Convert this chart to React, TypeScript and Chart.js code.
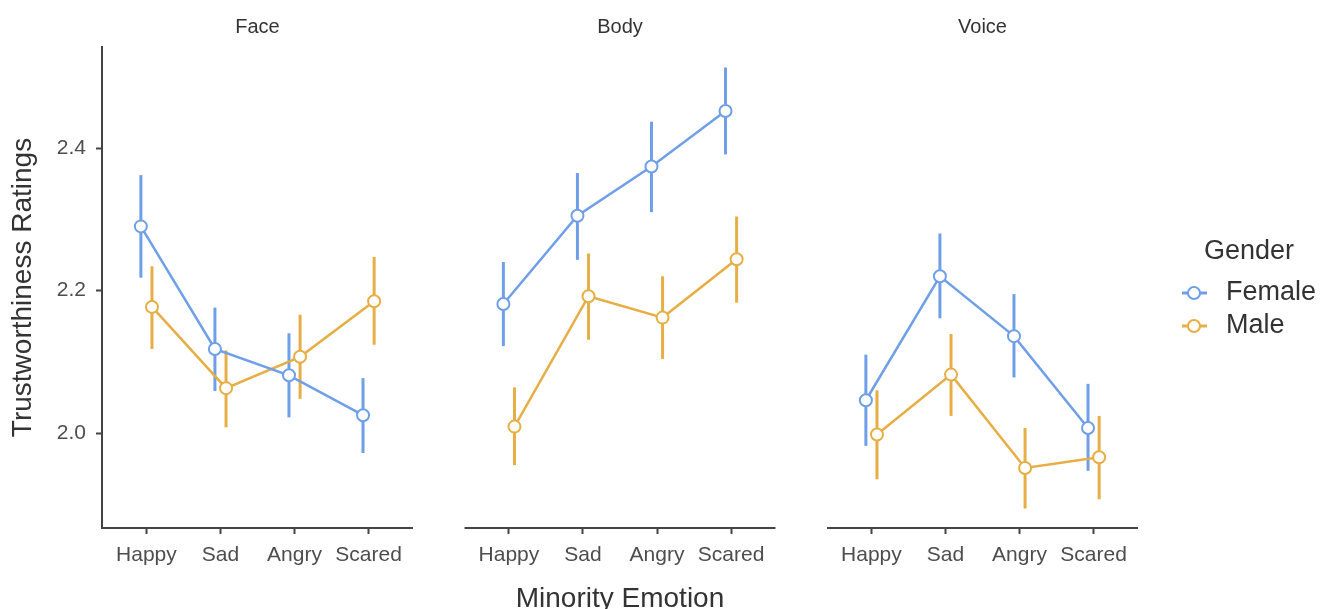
import { useEffect, useRef } from 'react';
import { Chart, registerables } from 'chart.js';

Chart.register(...registerables);

// ---------------- data ----------------
const panels = ['Face', 'Body', 'Voice'];
const categories = ['Happy', 'Sad', 'Angry', 'Scared'];
const genders = ['Female', 'Male'];
const yTickValues = [2.0, 2.2, 2.4];

const faceFemaleMean = [2.29, 2.118, 2.081, 2.025];
const faceFemaleLow = [2.218, 2.059, 2.022, 1.972];
const faceFemaleHigh = [2.362, 2.176, 2.14, 2.077];
const faceMaleMean = [2.177, 2.063, 2.107, 2.185];
const faceMaleLow = [2.118, 2.008, 2.048, 2.124];
const faceMaleHigh = [2.234, 2.116, 2.166, 2.247];

const bodyFemaleMean = [2.181, 2.305, 2.374, 2.452];
const bodyFemaleLow = [2.122, 2.243, 2.31, 2.391];
const bodyFemaleHigh = [2.24, 2.365, 2.437, 2.513];
const bodyMaleMean = [2.009, 2.192, 2.162, 2.244];
const bodyMaleLow = [1.955, 2.131, 2.104, 2.183];
const bodyMaleHigh = [2.064, 2.252, 2.22, 2.304];

const voiceFemaleMean = [2.046, 2.22, 2.136, 2.007];
const voiceFemaleLow = [1.982, 2.161, 2.078, 1.947];
const voiceFemaleHigh = [2.11, 2.28, 2.195, 2.069];
const voiceMaleMean = [1.998, 2.082, 1.951, 1.966];
const voiceMaleLow = [1.935, 2.024, 1.894, 1.907];
const voiceMaleHigh = [2.06, 2.139, 2.007, 2.024];

const seriesTable = [
  { panel: 0, gender: 0, mean: faceFemaleMean, low: faceFemaleLow, high: faceFemaleHigh },
  { panel: 0, gender: 1, mean: faceMaleMean, low: faceMaleLow, high: faceMaleHigh },
  { panel: 1, gender: 0, mean: bodyFemaleMean, low: bodyFemaleLow, high: bodyFemaleHigh },
  { panel: 1, gender: 1, mean: bodyMaleMean, low: bodyMaleLow, high: bodyMaleHigh },
  { panel: 2, gender: 0, mean: voiceFemaleMean, low: voiceFemaleLow, high: voiceFemaleHigh },
  { panel: 2, gender: 1, mean: voiceMaleMean, low: voiceMaleLow, high: voiceMaleHigh },
];

// ---------------- style / layout ----------------
const COLORS = ['#6F9FE8', '#E6AE45'];
const FONT = "'Liberation Sans', Arial, sans-serif";
const PANEL_SPAN = 4.2; // 0.4 .. 4.6 per facet
const PANEL_GAP = 0.6955;
const PANEL_STEP = PANEL_SPAN + PANEL_GAP;
const DODGE = 0.075;
const Y_MIN = 1.8667;
const Y_MAX = 2.5418;
const AXIS_COLOR = '#444444';

const panelOffset = (p: number) => p * PANEL_STEP;

const facetPlugin = {
  id: 'facetPlugin',
  beforeDatasetsDraw(chart: any) {
    const ctx = chart.ctx;
    const xs = chart.scales.x;
    const ys = chart.scales.y;
    ctx.save();
    chart.data.datasets.forEach((ds: any) => {
      ctx.strokeStyle = ds.borderColor;
      ctx.lineWidth = 3;
      ctx.lineCap = 'butt';
      ds.data.forEach((pt: any, i: number) => {
        const px = xs.getPixelForValue(pt.x);
        ctx.beginPath();
        ctx.moveTo(px, ys.getPixelForValue(ds.lows[i]));
        ctx.lineTo(px, ys.getPixelForValue(ds.highs[i]));
        ctx.stroke();
      });
    });
    ctx.restore();
  },
  afterDraw(chart: any) {
    const ctx = chart.ctx;
    const xs = chart.scales.x;
    const area = chart.chartArea;
    ctx.save();
    // facet x-axis lines
    ctx.strokeStyle = AXIS_COLOR;
    ctx.lineWidth = 2;
    panels.forEach((name, p) => {
      const x0 = xs.getPixelForValue(0.4 + panelOffset(p));
      const x1 = xs.getPixelForValue(0.4 + PANEL_SPAN + panelOffset(p));
      ctx.beginPath();
      ctx.moveTo(x0 - (p === 0 ? 1 : 0), area.bottom);
      ctx.lineTo(x1, area.bottom);
      ctx.stroke();
      // facet title
      ctx.fillStyle = '#333333';
      ctx.font = `20px ${FONT}`;
      ctx.textAlign = 'center';
      ctx.textBaseline = 'alphabetic';
      ctx.fillText(name, (x0 + x1) / 2, 33);
    });
    // legend
    ctx.fillStyle = '#333333';
    ctx.font = `27px ${FONT}`;
    ctx.textAlign = 'left';
    ctx.textBaseline = 'middle';
    ctx.fillText('Gender', 1204, 252);
    genders.forEach((g, i) => {
      const y = 293 + i * 33;
      ctx.strokeStyle = COLORS[i];
      ctx.lineWidth = 3;
      ctx.beginPath();
      ctx.moveTo(1182, y);
      ctx.lineTo(1207, y);
      ctx.stroke();
      ctx.beginPath();
      ctx.arc(1194, y, 6, 0, Math.PI * 2);
      ctx.fillStyle = '#ffffff';
      ctx.fill();
      ctx.lineWidth = 2;
      ctx.stroke();
      ctx.fillStyle = '#333333';
      ctx.fillText(g, 1226, y);
    });
    ctx.restore();
  },
};

export default function App() {
  const canvasRef = useRef<HTMLCanvasElement | null>(null);

  useEffect(() => {
    if (!canvasRef.current) return;
    const datasets = seriesTable.map((s) => ({
      label: `${panels[s.panel]} ${genders[s.gender]}`,
      data: s.mean.map((v, i) => ({
        x: panelOffset(s.panel) + i + 1 + (s.gender === 0 ? -DODGE : DODGE),
        y: v,
      })),
      lows: s.low,
      highs: s.high,
      borderColor: COLORS[s.gender],
      backgroundColor: '#ffffff',
      borderWidth: 2.5,
      pointRadius: 6,
      pointBorderWidth: 2,
      pointBackgroundColor: '#ffffff',
      pointBorderColor: COLORS[s.gender],
      pointHoverRadius: 6,
      tension: 0,
      fill: false,
    }));

    const xTickPositions: number[] = [];
    panels.forEach((_, p) => categories.forEach((_c, i) => xTickPositions.push(panelOffset(p) + i + 1)));

    const chart = new Chart(canvasRef.current, {
      type: 'line',
      data: { datasets: datasets as any },
      plugins: [facetPlugin],
      options: {
        animation: false,
        responsive: false,
        maintainAspectRatio: false,
        layout: { padding: { top: 47, right: 184, bottom: 0, left: 0 } },
        plugins: { legend: { display: false }, tooltip: { enabled: false } },
        scales: {
          x: {
            type: 'linear',
            min: 0.4,
            max: 0.4 + PANEL_SPAN * 3 + PANEL_GAP * 2,
            afterBuildTicks: (scale: any) => {
              scale.ticks = xTickPositions.map((v) => ({ value: v }));
            },
            afterFit: (scale: any) => {
              scale.height = 81;
            },
            border: { display: false },
            grid: {
              display: true,
              drawOnChartArea: false,
              drawTicks: true,
              tickLength: 6,
              tickColor: AXIS_COLOR,
              tickWidth: 2,
            },
            ticks: {
              autoSkip: false,
              maxRotation: 0,
              minRotation: 0,
              padding: 9,
              color: '#4d4d4d',
              font: { family: FONT, size: 21 },
              callback: (_v: any, index: number) => categories[index % categories.length],
            },
            title: {
              display: true,
              text: 'Minority Emotion',
              color: '#333333',
              font: { family: FONT, size: 28 },
              padding: { top: 0, bottom: -7 },
            },
          },
          y: {
            type: 'linear',
            min: Y_MIN,
            max: Y_MAX,
            afterBuildTicks: (scale: any) => {
              scale.ticks = yTickValues.map((v) => ({ value: v }));
            },
            afterFit: (scale: any) => {
              scale.width = 102;
            },
            border: { display: true, color: AXIS_COLOR, width: 2 },
            grid: {
              display: true,
              drawOnChartArea: false,
              drawTicks: true,
              tickLength: 6,
              tickColor: AXIS_COLOR,
              tickWidth: 2,
            },
            ticks: {
              padding: 10,
              color: '#4d4d4d',
              font: { family: FONT, size: 21 },
              callback: (v: any) => Number(v).toFixed(1),
            },
            title: {
              display: true,
              text: 'Trustworthiness Ratings',
              color: '#333333',
              font: { family: FONT, size: 28 },
              padding: { top: 6, bottom: 0 },
            },
          },
        },
      } as any,
    });
    return () => chart.destroy();
  }, []);

  return (
    <div style={{ position: 'fixed', left: 0, top: 0, width: 1322, height: 609, background: '#ffffff', overflow: 'hidden' }}>
      <canvas ref={canvasRef} width={1322} height={609} style={{ display: 'block' }} />
    </div>
  );
}
